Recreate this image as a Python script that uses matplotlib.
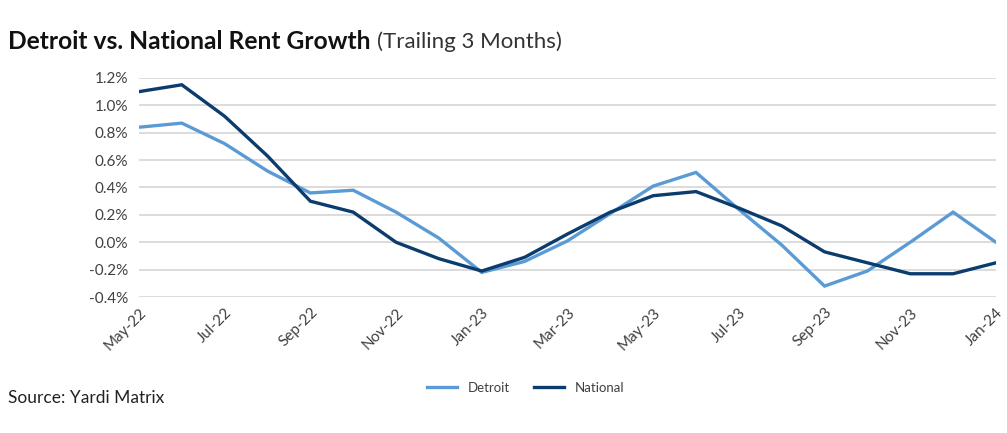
import numpy as np
import matplotlib.pyplot as plt

months = ['May-22', 'Jun-22', 'Jul-22', 'Aug-22', 'Sep-22', 'Oct-22', 'Nov-22',
          'Dec-22', 'Jan-23', 'Feb-23', 'Mar-23', 'Apr-23', 'May-23', 'Jun-23',
          'Jul-23', 'Aug-23', 'Sep-23', 'Oct-23', 'Nov-23', 'Dec-23', 'Jan-24']
detroit = [0.84, 0.87, 0.72, 0.52, 0.36, 0.38, 0.22, 0.03, -0.22, -0.14, 0.01,
           0.21, 0.41, 0.51, 0.24, -0.02, -0.32, -0.21, 0.00, 0.22, 0.00]
national = [1.10, 1.15, 0.92, 0.63, 0.30, 0.22, 0.00, -0.12, -0.21, -0.11, 0.06,
            0.22, 0.34, 0.37, 0.25, 0.12, -0.07, -0.15, -0.23, -0.23, -0.15]
yticks = [-0.4, -0.2, 0.0, 0.2, 0.4, 0.6, 0.8, 1.0, 1.2]

plt.rcParams['font.family'] = ['Lato', 'DejaVu Sans']

fig = plt.figure(figsize=(10.07, 4.33), dpi=100)
ax = fig.add_axes([0.138, 0.314, 0.851, 0.506])

x = np.arange(len(months))
ax.plot(x, detroit, color='#5B9BD5', lw=2.4, label='Detroit', solid_joinstyle='miter')
ax.plot(x, national, color='#0B3C6E', lw=2.4, label='National', solid_joinstyle='miter')

ax.set_xlim(0, len(months) - 1)
ax.set_ylim(-0.4, 1.2)
ax.set_yticks(yticks)
ax.set_yticklabels([f'{v:.1f}%' for v in yticks])
ax.set_xticks(x[::2])
ax.set_xticklabels(months[::2], rotation=45, ha='right', rotation_mode='anchor')
ax.tick_params(length=0, labelsize=11, colors='#404040', pad=8)
ax.tick_params(axis='x', pad=6)
ax.grid(axis='y', color='#D9D9D9', lw=1.3)
ax.set_axisbelow(True)
for s in ax.spines.values():
    s.set_visible(False)

title = fig.text(0.008, 0.905, 'Detroit vs. National Rent Growth', fontsize=17.7,
                 fontweight='bold', color='#111111', va='center')
fig.canvas.draw()
bb = title.get_window_extent().transformed(fig.transFigure.inverted())
fig.text(bb.x1 + 0.006, 0.903, '(Trailing 3 Months)', fontsize=16,
         color='#333333', va='center')
fig.text(0.008, 0.08, 'Source: Yardi Matrix', fontsize=12.5, color='#222222', va='center')

fig.legend(loc='center', bbox_to_anchor=(0.522, 0.105), ncol=2, frameon=False,
           fontsize=9.5, handlelength=2.3, columnspacing=1.8, labelcolor='#404040')

fig.savefig('out.png', dpi=100)
